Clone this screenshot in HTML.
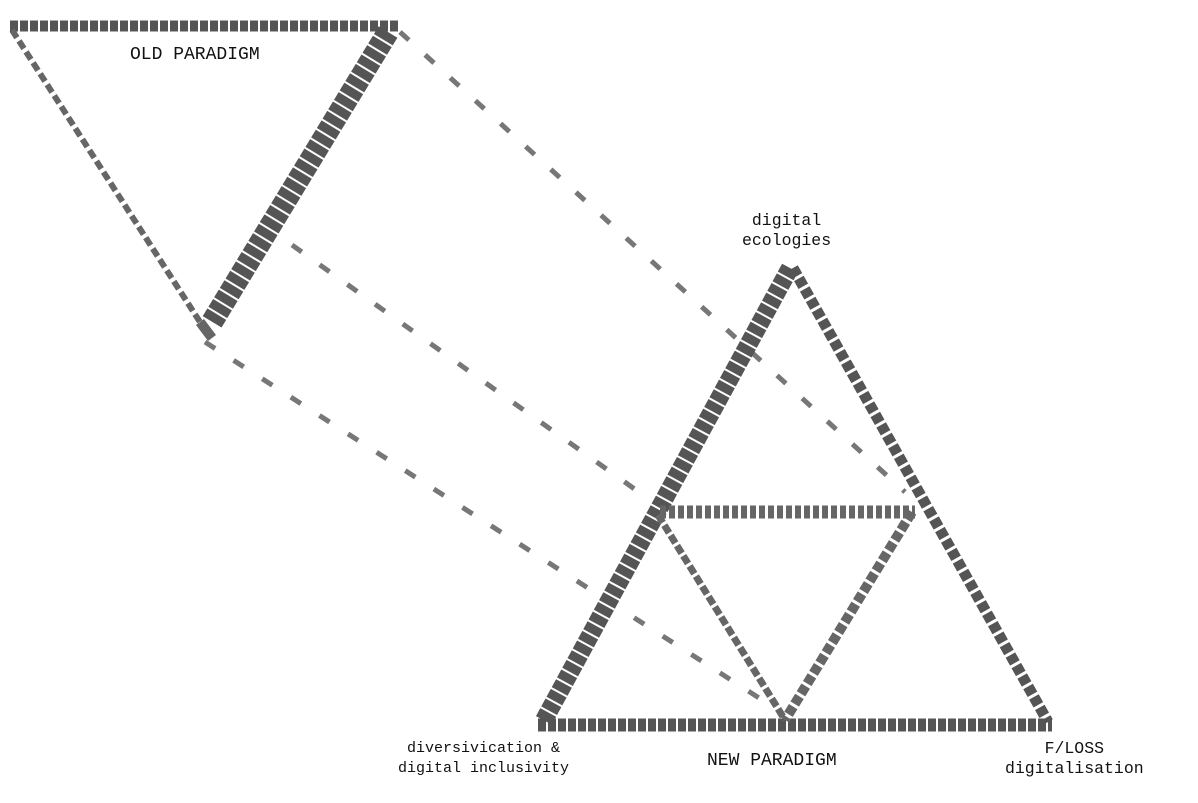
<!DOCTYPE html>
<html><head><meta charset="utf-8"><style>
html,body{margin:0;padding:0;background:#fff;}
body{width:1198px;height:803px;overflow:hidden;position:relative;font-family:"Liberation Mono","DejaVu Sans Mono",monospace;}
.t{position:absolute;font-size:16.5px;color:#111;white-space:pre;line-height:20px;text-align:center;}
</style></head><body>
<svg width="1198" height="803" style="position:absolute;left:0;top:0">
<g fill="none" stroke-linecap="butt">
<!-- old paradigm -->
<line x1="10" y1="26" x2="398" y2="26" stroke="#555" stroke-width="11" stroke-dasharray="8 2"/>
<line x1="12" y1="30" x2="200" y2="322" stroke="#666" stroke-width="6" stroke-dasharray="9 4"/>
<line x1="388" y1="32" x2="212" y2="322" stroke="#555" stroke-width="22" stroke-dasharray="9 2"/>
<line x1="200" y1="322" x2="212" y2="338" stroke="#666" stroke-width="10"/>
<!-- connectors -->
<line x1="400" y1="32" x2="905" y2="492" stroke="#777" stroke-width="5" stroke-dasharray="12 22"/>
<line x1="292" y1="245" x2="650" y2="500" stroke="#777" stroke-width="5" stroke-dasharray="12 22"/>
<line x1="205" y1="342" x2="770" y2="705" stroke="#777" stroke-width="5" stroke-dasharray="12 22"/>
<!-- new paradigm -->
<line x1="538" y1="725" x2="1052" y2="725" stroke="#555" stroke-width="13" stroke-dasharray="8 2"/>
<line x1="790" y1="268" x2="543" y2="722" stroke="#555" stroke-width="18" stroke-dasharray="9 2"/>
<line x1="793" y1="268" x2="1048" y2="722" stroke="#555" stroke-width="11" stroke-dasharray="9 3"/>
<line x1="660" y1="512" x2="915" y2="512" stroke="#666" stroke-width="13" stroke-dasharray="6 3"/>
<line x1="658" y1="515" x2="785" y2="720" stroke="#666" stroke-width="7" stroke-dasharray="9 3"/>
<line x1="912" y1="512" x2="785" y2="720" stroke="#666" stroke-width="10" stroke-dasharray="9 3"/>
</g>
</svg>
<div class="t" style="left:130px;top:45px;font-size:18px;">OLD PARADIGM</div>
<div class="t" style="left:742px;top:211px;">digital
ecologies</div>
<div class="t" style="left:398px;top:739px;font-size:15px;">diversivication &amp;
digital inclusivity</div>
<div class="t" style="left:707px;top:751px;font-size:18px;">NEW PARADIGM</div>
<div class="t" style="left:1005px;top:739px;">F/LOSS
digitalisation</div>
</body></html>
